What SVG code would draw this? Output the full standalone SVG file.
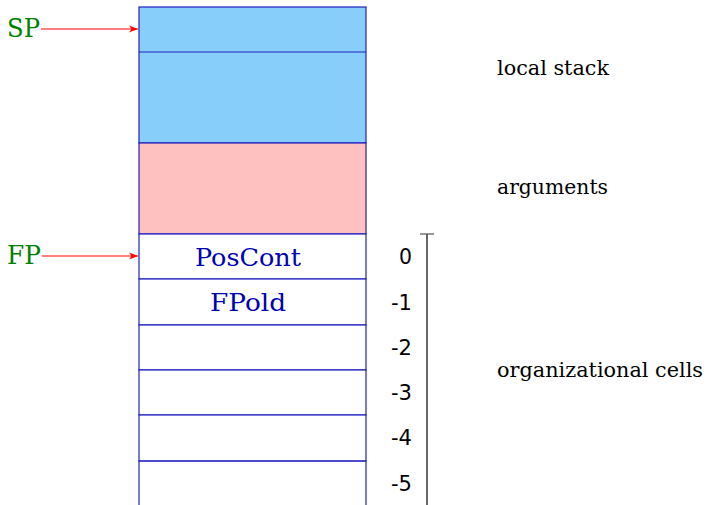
<svg xmlns="http://www.w3.org/2000/svg" width="707" height="505" viewBox="0 0 707 505">
<style>
.cell{stroke:#2020c0;stroke-width:1.2}
.ptr{font-family:"DejaVu Serif","Liberation Serif",serif;font-size:26px;fill:#008000}
.cont{font-family:"DejaVu Serif","Liberation Serif",serif;font-size:25px;fill:#0000b4;text-anchor:middle}
.num{font-family:"DejaVu Sans","Liberation Sans",sans-serif;font-size:22px;fill:#000;text-anchor:end}
.lbl{font-family:"DejaVu Serif","Liberation Serif",serif;font-size:20px;fill:#000}
.arr{stroke:#ff0000;stroke-width:1.2;fill:none}
</style>
<defs>
<marker id="ah" markerWidth="10" markerHeight="8" refX="9" refY="4" orient="auto" markerUnits="userSpaceOnUse">
<path d="M0,0.5 L9,4 L0,7.5 L2.5,4 Z" fill="#ff0000"/>
</marker>
</defs>
<g id="stack">
<g id="local-stack">
<rect x="139" y="7" width="227" height="136" fill="#87cefa" class="cell"/>
<line x1="139" y1="52" x2="366" y2="52" class="cell"/>
</g>
<g id="arguments">
<rect x="139" y="143" width="227" height="91" fill="#ffc0c0" class="cell"/>
</g>
<g id="poscont">
<rect x="139" y="234" width="227" height="45" fill="#fff" class="cell"/>
<text x="248" y="266" class="cont" textLength="106" lengthAdjust="spacingAndGlyphs">PosCont</text>
</g>
<g id="fpold">
<rect x="139" y="279" width="227" height="46" fill="#fff" class="cell"/>
<text x="248" y="311" class="cont" textLength="76" lengthAdjust="spacingAndGlyphs">FPold</text>
</g>
<g id="cell-2"><rect x="139" y="325" width="227" height="45" fill="#fff" class="cell"/></g>
<g id="cell-3"><rect x="139" y="370" width="227" height="45" fill="#fff" class="cell"/></g>
<g id="cell-4"><rect x="139" y="415" width="227" height="46" fill="#fff" class="cell"/></g>
<g id="cell-5"><path d="M139,505 V461 H366 V505" fill="none" class="cell"/></g>
</g>
<g id="sp"><text x="7" y="37" class="ptr" textLength="33" lengthAdjust="spacingAndGlyphs">SP</text></g>
<g id="fp"><text x="7" y="264" class="ptr" textLength="34" lengthAdjust="spacingAndGlyphs">FP</text></g>
<g id="connectors">
<line x1="41" y1="29" x2="138" y2="29" class="arr" marker-end="url(#ah)"/>
<line x1="42" y1="256" x2="138" y2="256" class="arr" marker-end="url(#ah)"/>
</g>
<g id="scale">
<line x1="427" y1="234" x2="427" y2="505" stroke="#000" stroke-width="1.2"/>
<line x1="420" y1="234" x2="434" y2="234" stroke="#555" stroke-width="1.2"/>
<text x="412" y="264" class="num" textLength="13" lengthAdjust="spacingAndGlyphs">0</text>
<text x="412" y="310" class="num" textLength="21" lengthAdjust="spacingAndGlyphs">-1</text>
<text x="412" y="355" class="num" textLength="21" lengthAdjust="spacingAndGlyphs">-2</text>
<text x="412" y="400" class="num" textLength="21" lengthAdjust="spacingAndGlyphs">-3</text>
<text x="412" y="445" class="num" textLength="21" lengthAdjust="spacingAndGlyphs">-4</text>
<text x="412" y="491" class="num" textLength="21" lengthAdjust="spacingAndGlyphs">-5</text>
</g>
<g id="labels">
<text x="497" y="75" class="lbl" textLength="112" lengthAdjust="spacingAndGlyphs">local stack</text>
<text x="497" y="194" class="lbl" textLength="111" lengthAdjust="spacingAndGlyphs">arguments</text>
<text x="497" y="377" class="lbl" textLength="206" lengthAdjust="spacingAndGlyphs">organizational cells</text>
</g>
</svg>
